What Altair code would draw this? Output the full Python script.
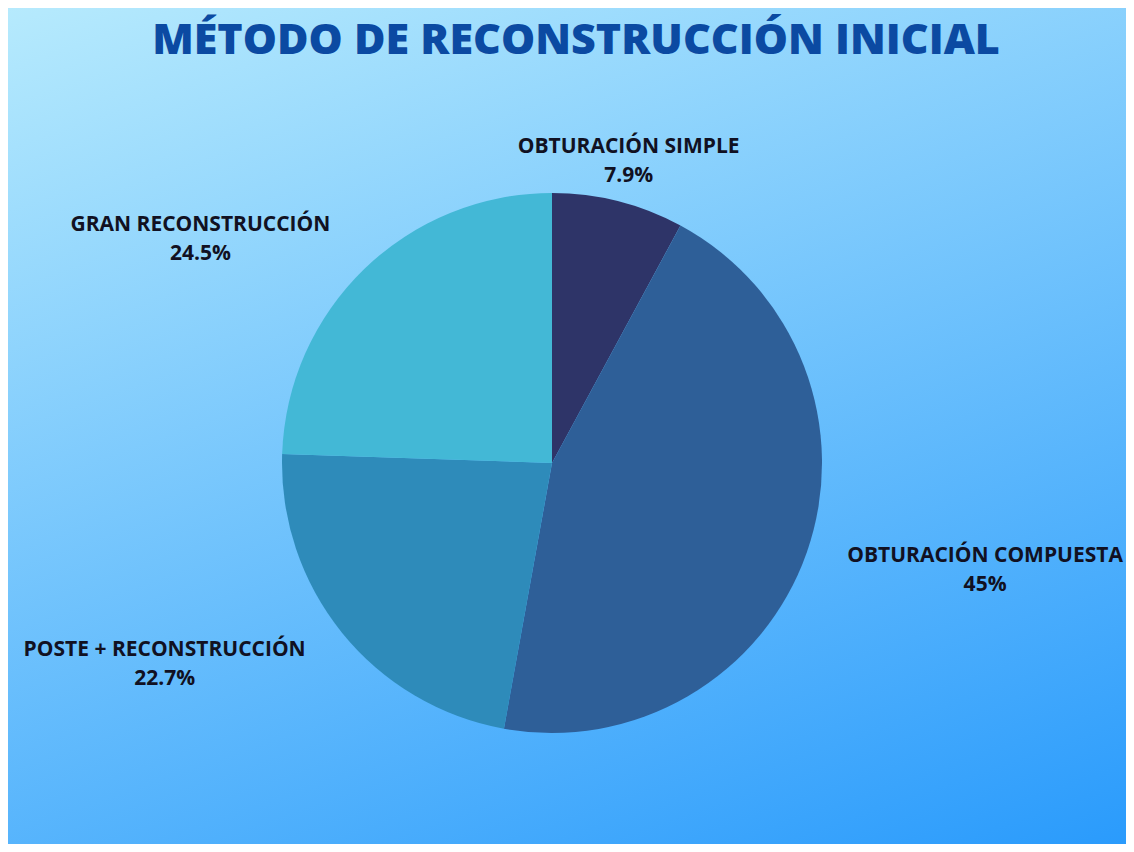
import math
import altair as alt
import pandas as pd

# ---- data ----
categories = ["OBTURACIÓN SIMPLE", "OBTURACIÓN COMPUESTA", "POSTE + RECONSTRUCCIÓN", "GRAN RECONSTRUCCIÓN"]
values = [7.9, 45, 22.7, 24.5]
pct_labels = ["7.9%", "45%", "22.7%", "24.5%"]
title_text = ["MÉTODO DE RECONSTRUCCIÓN INICIAL"]

# ---- styles / layout ----
colors = ["#2e3468", "#2e5f98", "#2e8bba", "#43b8d6"]
W, H = 1118, 836
CX, CY = 544, 455
R = 270
LR = 300
label_offsets = [(3, -25), (150, -6), (-154, -2), (-143, -22)]

df = pd.DataFrame({
    "category": categories,
    "value": values,
    "pct": pct_labels,
    "order": list(range(len(categories))),
})
df["label"] = df["category"] + "\n" + df["pct"]
total = float(sum(values))
theta_scale = alt.Scale(domain=[0, total], range=[0, 2 * math.pi])

grad = alt.LinearGradient(
    gradient="linear",
    stops=[alt.GradientStop(color="#b6eafd", offset=0), alt.GradientStop(color="#2a9bfc", offset=1)],
    x1=0, y1=0, x2=0.565, y2=1.204,
)

background = alt.Chart(pd.DataFrame({"k": [0]})).mark_rect(color=grad).encode(
    x=alt.value(0), x2=alt.value(W), y=alt.value(0), y2=alt.value(H)
)

base = alt.Chart(df)

pie = base.mark_arc(outerRadius=R).encode(
    theta=alt.Theta("value:Q", stack=True, scale=theta_scale),
    order=alt.Order("order:Q"),
    color=alt.Color("category:N", scale=alt.Scale(domain=categories, range=colors), legend=None),
    x=alt.value(CX),
    y=alt.value(CY),
)

layers = [background, pie]
for cat, (dx, dy) in zip(categories, label_offsets):
    lab = (
        base.transform_window(
            cum="sum(value)", sort=[alt.SortField("order")], frame=[None, 0]
        )
        .transform_calculate(mid="datum.cum - datum.value / 2")
        .transform_filter(alt.datum.category == cat)
        .mark_text(
            radius=LR, dx=dx, dy=dy, lineBreak="\n", font="Open Sans",
            fontWeight="bold", fontSize=21, lineHeight=29, align="center",
            baseline="middle", color="#111122",
        )
        .encode(
            theta=alt.Theta("mid:Q", scale=theta_scale),
            text="label:N",
            x=alt.value(CX),
            y=alt.value(CY),
        )
    )
    layers.append(lab)

title = alt.Chart(pd.DataFrame({"t": title_text})).mark_text(
    font="Open Sans", fontSize=43, fontWeight=800, color="#0b4aa2",
    align="center", baseline="alphabetic",
).encode(text="t:N", x=alt.value(568), y=alt.value(46))
layers.append(title)

chart = (
    alt.layer(*layers)
    .properties(width=W, height=H, padding=0, autosize="none")
    .configure_view(strokeOpacity=0)
)

chart.save("out.html", embed_options={"renderer": "svg", "actions": False})
